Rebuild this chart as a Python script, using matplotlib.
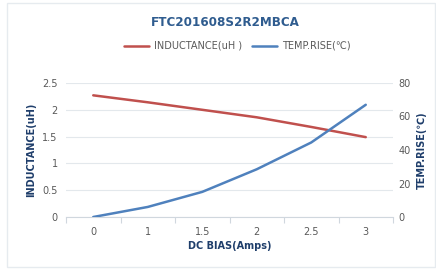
import matplotlib
matplotlib.use("Agg")
import matplotlib.pyplot as plt
from matplotlib.patches import Rectangle

categories = ["0", "1", "1.5", "2", "2.5", "3"]
inductance = [2.27, 2.14, 2.00, 1.86, 1.68, 1.49]
temp_rise = [0, 6, 15, 28.5, 44.5, 67]
left_ticks = [0, 0.5, 1, 1.5, 2, 2.5]
left_labels = ["0", "0.5", "1", "1.5", "2", "2.5"]
right_ticks = [0, 20, 40, 60, 80]

plt.rcParams['font.family'] = ['DejaVu Sans', 'Noto Sans CJK SC']

fig = plt.figure(figsize=(4.36, 2.70), dpi=100)
fig.patch.set_facecolor("white")
fig.patches.append(Rectangle((7/436, 3/270), 1 - 8/436, 1 - 6/270, transform=fig.transFigure,
                             fill=False, edgecolor="#e6ebef", linewidth=1))

ax = fig.add_axes([66/436, 1 - 217/270, (393 - 66)/436, (217 - 83)/270])
ax2 = ax.twinx()

x = list(range(len(categories)))
red = "#C0504D"
blue = "#4F81BD"
tick_color = "#595959"
lab_color = "#1F3E6B"

l1, = ax.plot(x, inductance, color=red, linewidth=1.8, solid_capstyle="round")
l2, = ax2.plot(x, temp_rise, color=blue, linewidth=1.8, solid_capstyle="round")

ax.set_xlim(-0.5, len(categories) - 0.5)
ax.set_ylim(0, 2.5)
ax2.set_ylim(0, 80)
ax.set_yticks(left_ticks)
ax.set_yticklabels(left_labels)
ax2.set_yticks(right_ticks)

ax.set_xticks(x)
ax.set_xticklabels(categories)
ax.set_xticks([i - 0.5 for i in range(len(categories) + 1)], minor=True)
ax.tick_params(axis="x", which="major", length=0, pad=7, labelsize=7, colors=tick_color)
ax.tick_params(axis="x", which="minor", length=4, color="#d0d7de", width=0.8)
ax.tick_params(axis="y", length=0, pad=6, labelsize=7, colors=tick_color)
ax2.tick_params(axis="y", length=0, pad=4, labelsize=7, colors=tick_color)

ax.grid(axis="y", color="#e3e8ec", linewidth=0.8)
ax.set_axisbelow(True)
for a in (ax, ax2):
    for s in ("top", "right", "left", "bottom"):
        a.spines[s].set_visible(False)
ax.spines["bottom"].set_visible(True)
ax.spines["bottom"].set_color("#d0d7de")
ax.spines["bottom"].set_linewidth(0.8)

ax.set_ylabel("INDUCTANCE(uH)", fontsize=7, fontweight="bold", color=lab_color, labelpad=4)
ax2.set_ylabel("TEMP.RISE(℃)", fontsize=7, fontweight="bold", color=lab_color, labelpad=4)
ax.set_xlabel("DC BIAS(Amps)", fontsize=7, fontweight="bold", color=lab_color, labelpad=3)

fig.text(225/436, 1 - 22.5/270, "FTC201608S2R2MBCA", ha="center", va="center",
         fontsize=9.5, fontweight="bold", color="#2F5C8F",
         family=["DejaVu Sans Condensed", "Liberation Sans Narrow", "DejaVu Sans"],
         fontstretch="condensed")

fig.legend([l1, l2], ["INDUCTANCE(uH )", "TEMP.RISE(℃)"], loc="center",
           bbox_to_anchor=(237/436, 1 - 46/270), ncol=2, frameon=False,
           fontsize=7, labelcolor=tick_color, handlelength=2.6, columnspacing=1.0,
           handletextpad=0.5)

fig.savefig("out.png", dpi=100, facecolor="white")
